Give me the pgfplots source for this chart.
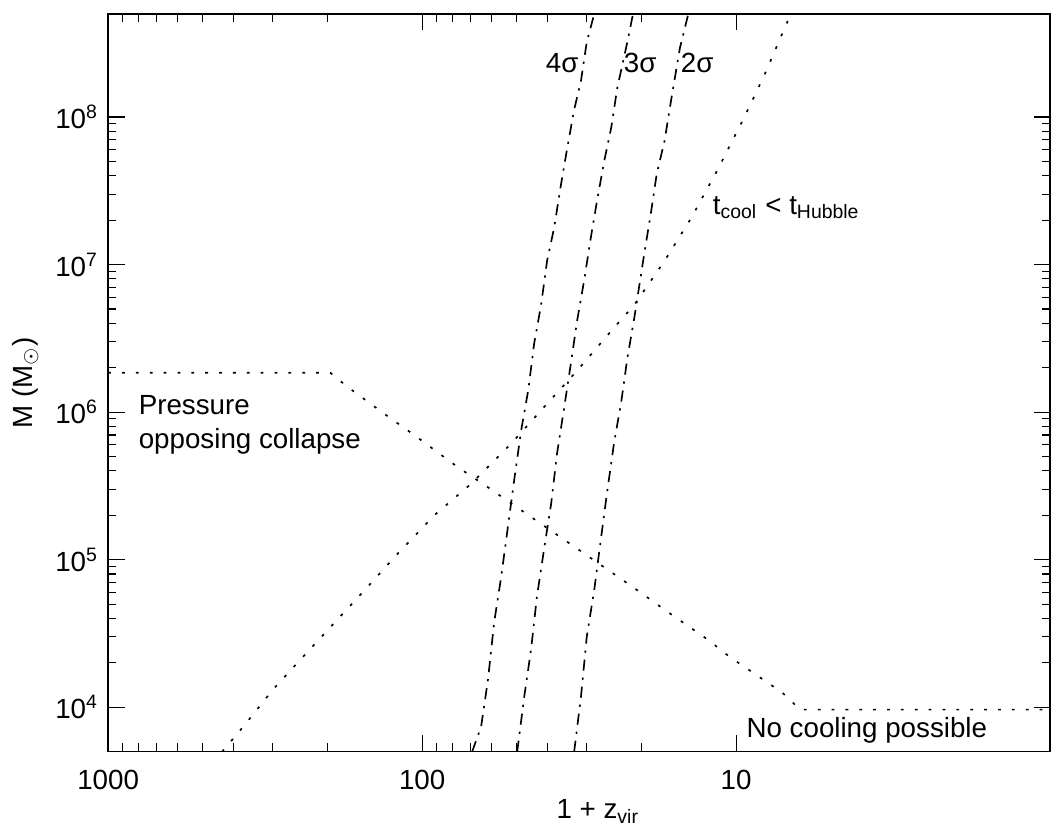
\documentclass[border=0pt]{standalone}
\usepackage{pgfplots}
\pgfplotsset{compat=1.18}
\usepackage{fontspec}
\setmainfont{Liberation Sans}
\begin{document}
\begin{tikzpicture}
\begin{axis}[
  name=ax,
  scale only axis,
  width=339.6pt, height=266pt,
  xmode=log, ymode=log,
  x dir=reverse,
  xmin=1, xmax=1000,
  ymin=5e3, ymax=5e8,
  xtick={10,100,1000}, xticklabels={10,100,1000},
  ytick={1e4,1e5,1e6,1e7,1e8},
  yticklabels={10\textsuperscript{4},10\textsuperscript{5},10\textsuperscript{6},10\textsuperscript{7},10\textsuperscript{8}},
  tick align=inside,
  major tick length=6pt, minor tick length=3pt,
  tick style={black, line width=0.4pt},
  axis line style={line width=0.5pt},
  xticklabel style={yshift=-3pt},
  xlabel={1 + z\textsubscript{vir}},
  ylabel={M (M$_\odot$)},
  xlabel style={at={(axis description cs:0.52,-0.081)}, anchor=center},
  ylabel style={at={(axis description cs:-0.088,0.5)}, anchor=center},
  every axis plot/.append style={black, line width=0.6pt},
  font=\normalsize,
]
% 4 sigma
\addplot[dash pattern=on 4pt off 2.5pt on 0.8pt off 2.5pt] coordinates {
(69.3,5000) (64.9,7.38e3) (61.7,1.54e4) (59.0,3.74e4) (56.0,7.67e4) (53.2,1.73e5)
(50.9,3.48e5) (48.4,7.48e5) (45.9,1.42e6) (44.0,2.90e6) (41.8,5.33e6) (40.0,1.06e7)
(38.0,1.77e7) (36.1,3.52e7) (34.5,6.18e7) (32.8,1.12e8) (31.2,1.76e8) (29.9,3.23e8) (28.3,5.0e8)};
% 3 sigma
\addplot[dash pattern=on 4pt off 2.5pt on 0.8pt off 2.5pt] coordinates {
(49.8,5000) (47.3,1.18e4) (45.0,2.45e4) (43.1,5.61e4) (40.8,1.22e5) (38.8,2.43e5)
(37.2,5.22e5) (35.3,1.07e6) (33.5,2.23e6) (32.1,4.16e6) (30.5,7.76e6) (29.0,1.54e7)
(27.7,2.75e7) (26.3,5.05e7) (25.0,8.45e7) (23.9,1.58e8) (22.2,3.23e8) (21.3,5.0e8)};
% 2 sigma
\addplot[dash pattern=on 4pt off 2.5pt on 0.8pt off 2.5pt] coordinates {
(32.8,5000) (31.2,1.18e4) (29.9,3.01e4) (28.3,6.27e4) (26.9,1.43e5) (25.8,2.80e5)
(24.5,6.11e5) (23.2,1.19e6) (22.2,2.33e6) (21.1,4.36e6) (19.6,1.20e7) (18.7,2.21e7)
(17.9,4.12e7) (16.9,6.90e7) (16.1,1.31e8) (15.1,2.94e8) (14.2,5.0e8)};
% t_cool < t_Hubble
\addplot[dash pattern=on 1pt off 4pt] coordinates {
(433.5,5000) (371.5,7.38e3) (298.5,1.32e4) (223.9,2.57e4) (155.2,5.97e4) (119.1,1.11e5)
(91.0,2.02e5) (69.8,3.27e5) (52.1,6.11e5) (40.0,1.14e6) (32.1,1.91e6) (24.5,3.73e6)
(21.1,5.33e6) (16.9,1.06e7) (13.9,2.07e7) (11.5,4.32e7) (9.44,9.86e7) (8.15,1.90e8)
(6.89,4.35e8) (6.73,5.0e8)};
% Pressure (Jeans) boundary
\addplot[dash pattern=on 1pt off 4pt] coordinates {
(1000,1.85e6) (196.3,1.85e6) (173.4,1.49e6) (128.2,9.31e5) (108.4,7.24e5) (91.6,5.56e5)
(77.4,4.27e5) (62.1,3.12e5) (23.8,7.67e4) (20.1,5.97e4) (16.9,4.58e4) (12.3,2.87e4)
(10.5,2.20e4) (7.14,1.26e4) (6.25,9.64e3) (1,9.64e3)};
\node[anchor=north west, align=left, inner sep=0pt] at (axis cs:802,1.30e6) {Pressure\\opposing collapse};
\node[anchor=west, inner sep=0pt] at (axis cs:9.3,7.0e3) {No cooling possible};
\node[inner sep=0pt] at (axis cs:35.8,2.33e8) {4σ};
\node[inner sep=0pt] at (axis cs:20.2,2.33e8) {3σ};
\node[inner sep=0pt] at (axis cs:13.3,2.33e8) {2σ};
\node[anchor=west, inner sep=0pt] at (axis cs:11.9,2.43e7) {t\textsubscript{cool} < t\textsubscript{Hubble}};
\coordinate (LL) at (rel axis cs:0,0);
\coordinate (UR) at (rel axis cs:1,1);
\end{axis}
\pgfresetboundingbox
\path ([xshift=-39pt,yshift=-27pt]LL) rectangle ([xshift=1.4pt,yshift=5pt]UR);
\end{tikzpicture}
\end{document}
